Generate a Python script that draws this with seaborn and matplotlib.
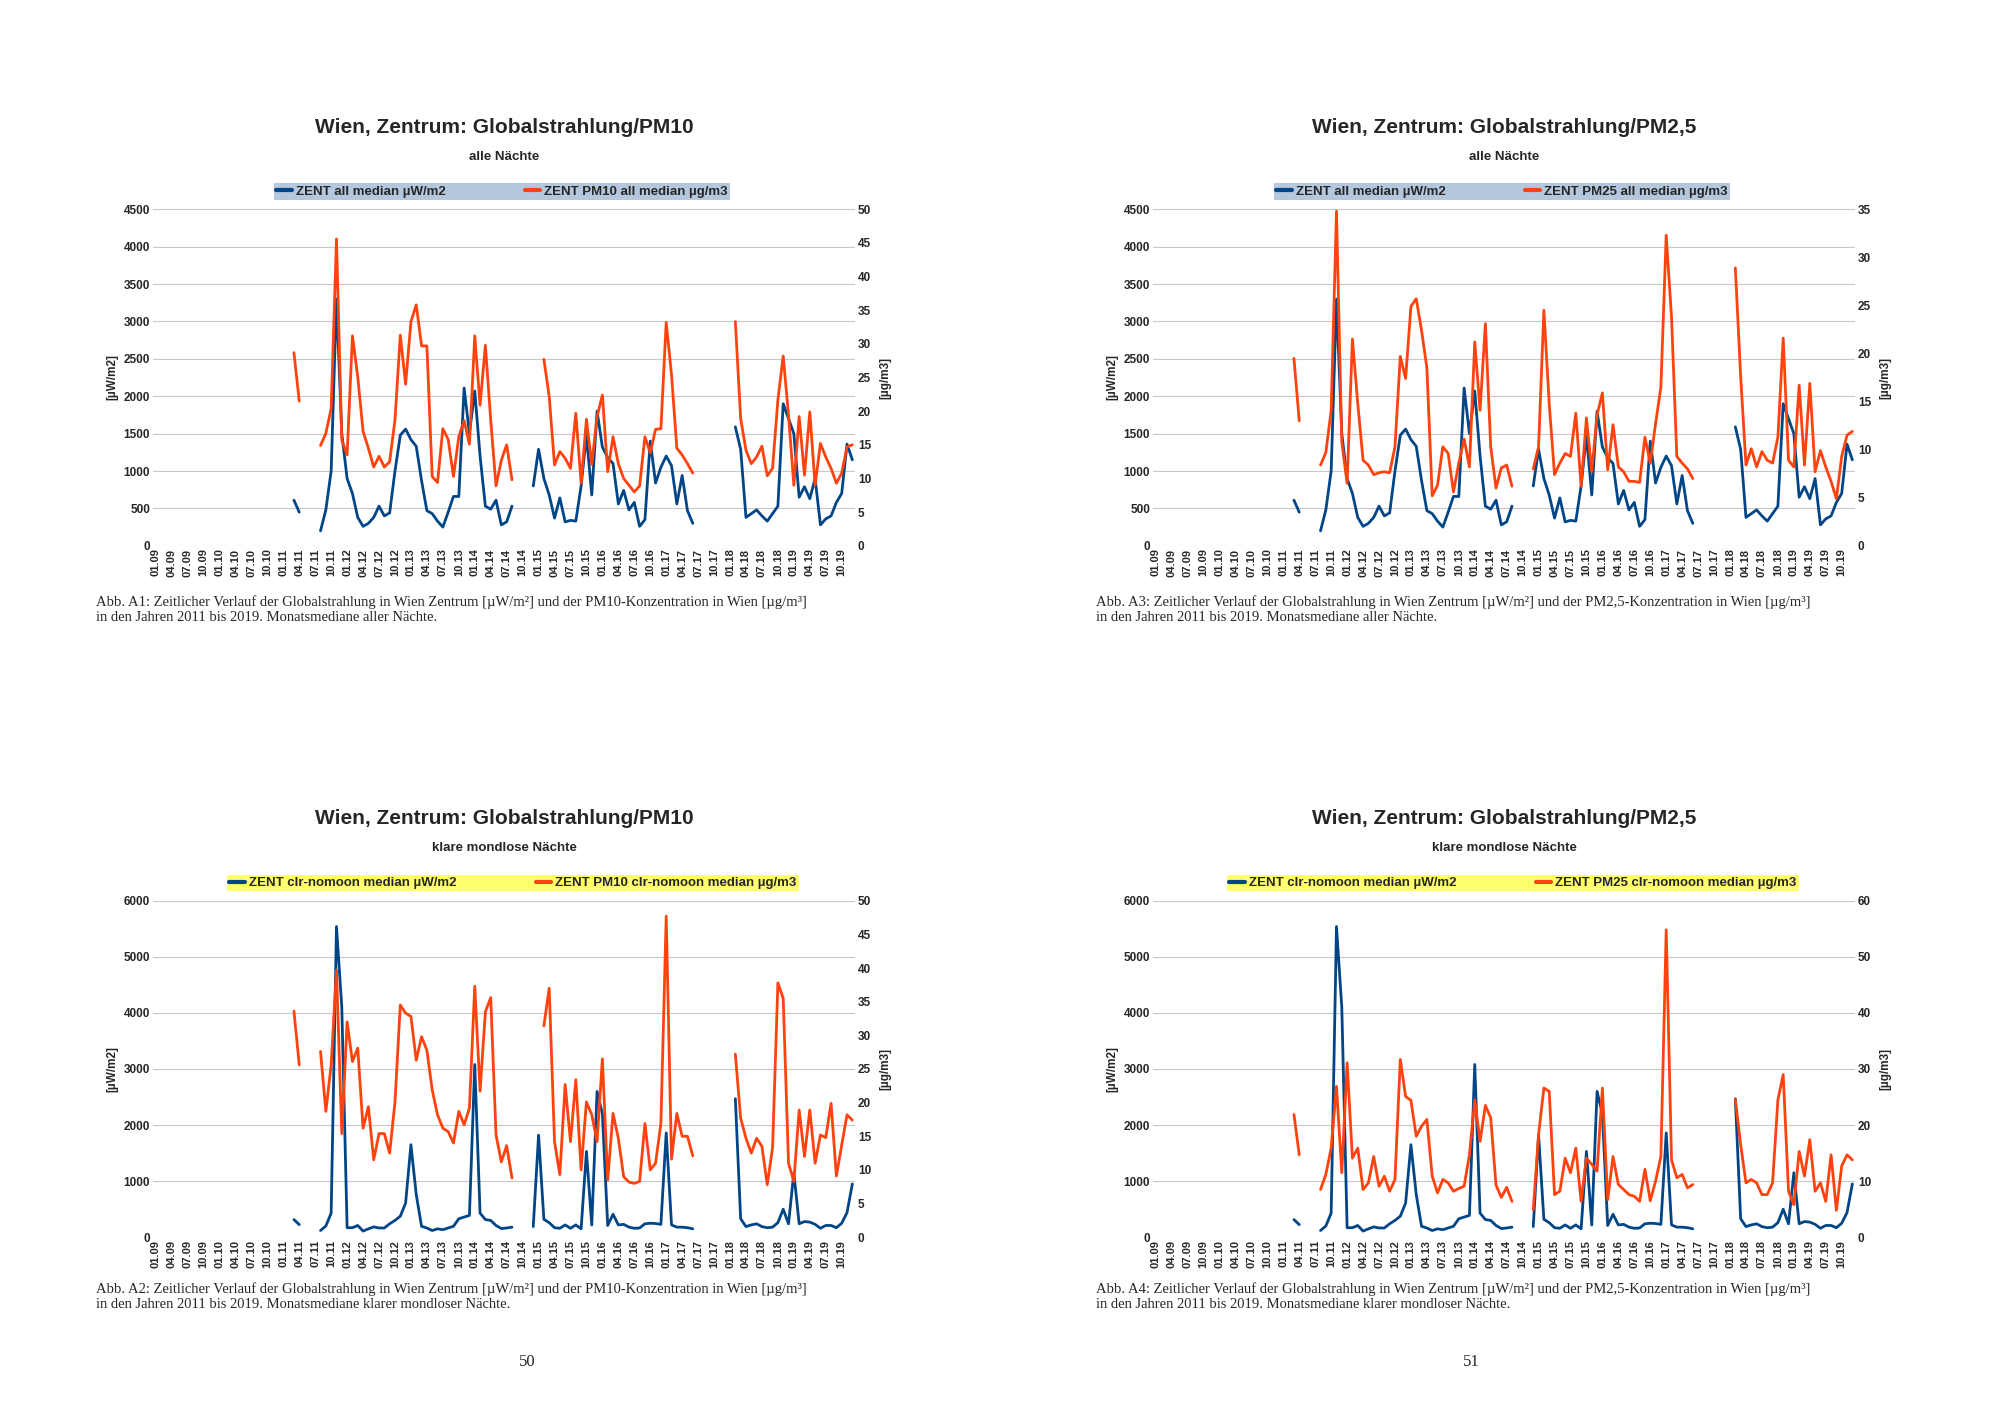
import numpy as np
import pandas as pd
import matplotlib
matplotlib.use("Agg")
import matplotlib.pyplot as plt
import seaborn as sns

# monthly categories 01.09 .. 12.19
months = pd.date_range("2009-01-01", "2019-12-01", freq="MS")
tick_labels = [m.strftime("%m.%y") for m in months][::3]

# segments: (start month index, values)
glob_all = [(26, [610, 450]),
            (31, [200, 480, 1000, 3300, 1500, 900, 700, 380, 260, 300,
                  380, 530, 400, 440, 1000, 1480, 1560, 1420, 1330, 870,
                  470, 430, 330, 250, 450, 660, 660, 2110, 1500, 2070,
                  1200, 530, 490, 610, 280, 320, 530]),
            (71, [800, 1290, 900, 680, 370, 640, 320, 340, 330, 800,
                  1480, 680, 1800, 1320, 1180, 1100, 560, 740, 480, 580,
                  260, 350, 1400, 840, 1050, 1200, 1070, 560, 940, 470, 300]),
            (109, [1590, 1290, 380, 430, 480, 400, 330, 430, 530, 1900,
                   1700, 1500, 650, 790, 630, 900, 280, 360, 400, 580,
                   700, 1360, 1150])]
pm10_all = [(26, [28.7, 21.5]),
            (31, [14.9, 16.7, 20.4, 45.6, 15.7, 13.5, 31.2, 25.1, 17, 14.5,
                  11.7, 13.3, 11.7, 12.5, 18.7, 31.3, 24, 33.3, 35.8, 29.7,
                  29.7, 10.3, 9.4, 17.4, 15.8, 10.3, 16.2, 18.6, 15.1, 31.2,
                  20.9, 29.8, 18.7, 8.9, 12.7, 15, 9.8]),
            (73, [27.7, 22.2, 12, 14, 13, 11.5, 19.7, 9.3,
                  18.8, 12.1, 19.2, 22.4, 11, 16.2, 12.2, 10, 9, 8,
                  8.9, 16.2, 13.8, 17.3, 17.4, 33.2, 25.4, 14.5, 13.5, 12.2, 10.8]),
            (109, [33.3, 18.9, 14.2, 12.2, 13.2, 14.8, 10.4, 11.5, 21.7, 28.2,
                   19.4, 9, 19.2, 10.5, 19.9, 9, 15.2, 13.2, 11.5, 9.3,
                   10.8, 14.7, 15])]
pm25_all = [(26, [19.5, 13]),
            (31, [8.4, 9.7, 14.1, 34.8, 10.8, 6.5, 21.5, 14.8, 8.9, 8.4,
                  7.4, 7.6, 7.7, 7.6, 10.3, 19.7, 17.4, 24.9, 25.7, 22.4,
                  18.5, 5.2, 6.3, 10.3, 9.6, 5.6, 8.6, 11.1, 8.2, 21.2,
                  14.1, 23.1, 10.3, 6, 8.1, 8.4, 6.2]),
            (71, [8, 10.3, 24.5, 14.8, 7.4, 8.6, 9.6, 9.3, 13.8, 6.2,
                  13.3, 7.7, 13.6, 15.9, 7.9, 12.6, 8.2, 7.7, 6.7, 6.7,
                  6.6, 11.3, 8.6, 12.7, 16.5, 32.3, 23.8, 9.3, 8.6, 8, 7]),
            (109, [28.9, 17.6, 8.4, 10.1, 8.2, 9.8, 8.9, 8.6, 11.3, 21.6,
                   8.9, 8.2, 16.7, 8.4, 16.9, 7.7, 9.9, 8.2, 6.7, 4.9,
                   9.3, 11.5, 11.9])]
glob_clr = [(26, [315, 225]),
            (31, [120, 200, 430, 5540, 4100, 170, 170, 210, 110, 150,
                  185, 165, 165, 240, 300, 375, 610, 1650, 760, 195,
                  165, 120, 150, 135, 165, 195, 330, 360, 390, 3080,
                  430, 315, 300, 210, 155, 165, 180]),
            (71, [190, 1820, 320, 260, 170, 160, 220, 160, 220, 150,
                  1530, 220, 2600, 2200, 210, 410, 220, 230, 180, 160,
                  165, 240, 250, 245, 230, 1860, 220, 180, 180, 170, 150]),
            (109, [2470, 330, 190, 220, 240, 190, 170, 180, 260, 500,
                   240, 1150, 240, 280, 270, 230, 160, 210, 210, 170,
                   250, 440, 950])]
pm10_clr = [(26, [33.6, 25.6]),
            (31, [27.6, 18.7, 25.6, 39.7, 15.4, 32, 26.1, 28.1, 16.2, 19.4,
                  11.5, 15.4, 15.4, 12.5, 20.1, 34.5, 33.3, 32.8, 26.3, 29.8,
                  27.8, 21.9, 18.2, 16.2, 15.7, 14, 18.7, 16.7, 19.2, 37.3,
                  21.7, 33.5, 35.6, 15.2, 11.2, 13.6, 8.8]),
            (73, [31.4, 37, 14.2, 9.3, 22.7, 14.2, 23.4, 10,
                  20.1, 18.2, 14.2, 26.5, 8.5, 18.4, 14.7, 9, 8.2, 8,
                  8.3, 16.9, 10, 11, 16.9, 47.7, 11.6, 18.4, 15, 15, 12.1]),
            (109, [27.2, 17.7, 14.7, 12.5, 14.7, 13.5, 7.8, 13.3, 37.8, 35.5,
                   11, 8.3, 18.9, 12, 18.9, 11, 15.2, 14.8, 19.9, 9.1,
                   13.7, 18.2, 17.4])]
pm25_clr = [(26, [21.9, 14.7]),
            (31, [8.5, 11.2, 15.9, 26.9, 11.5, 31.1, 14.1, 15.9, 8.5, 9.7,
                  14.4, 9.1, 10.9, 8.2, 10.3, 31.7, 25.1, 24.4, 18, 19.8,
                  21, 10.9, 7.9, 10.3, 9.7, 8.2, 8.7, 9.1, 14.7, 24.5,
                  17.1, 23.5, 21.3, 9.3, 7.1, 8.9, 6.4]),
            (71, [4.9, 18.3, 26.6, 26, 7.6, 8.2, 14.1, 11.5, 15.9, 6.4,
                  14.1, 13, 11.8, 26.6, 6.7, 14.4, 9.4, 8.5, 7.6, 7.3,
                  6.4, 12.1, 6.5, 10, 14.4, 54.8, 13.8, 10.6, 11.2, 8.8, 9.4]),
            (109, [24.6, 16.5, 9.7, 10.3, 9.7, 7.6, 7.6, 9.7, 24.5, 29,
                   8.2, 5.8, 15.3, 10.9, 17.4, 8.2, 9.7, 6.4, 14.7, 4.8,
                   12.7, 14.7, 13.8])]

BLUE = "#004586"
ORANGE = "#ff420e"

sns.set_theme(style="white")
plt.rcParams["font.family"] = ["Liberation Sans", "DejaVu Sans"]


def to_frame(segs):
    rows = []
    for k, (start, vals) in enumerate(segs):
        for j, v in enumerate(vals):
            rows.append({"x": start + j, "y": v, "seg": k})
    return pd.DataFrame(rows)


def panel(fig, rect, glob, pm, ymax_l, ymax_r, step_r, lab_l, lab_r, band, title, sub):
    ax = fig.add_axes(rect)
    ax2 = ax.twinx()
    sns.lineplot(data=to_frame(glob), x="x", y="y", units="seg", estimator=None,
                 color=BLUE, lw=2.0, ax=ax)
    sns.lineplot(data=to_frame(pm), x="x", y="y", units="seg", estimator=None,
                 color=ORANGE, lw=2.0, ax=ax2)
    ax.set_xlim(-0.5, len(months) - 0.5)
    ax.set_ylim(0, ymax_l)
    ax2.set_ylim(0, ymax_r)
    ax.set_yticks(np.arange(0, ymax_l + 1, 500 if ymax_l == 4500 else 1000))
    ax2.set_yticks(np.arange(0, ymax_r + 0.1, step_r))
    ax.set_xticks(np.arange(0, len(months), 3))
    ax.set_xticklabels(tick_labels, rotation=90, fontsize=8, fontweight="bold")
    ax.grid(axis="y", color="#c8c8c8", lw=0.8)
    ax2.grid(False)
    for a in (ax, ax2):
        for s in a.spines.values():
            s.set_visible(False)
        a.tick_params(axis="y", labelsize=8.5, length=0, pad=2)
        a.set_xlabel("")
    ax.tick_params(axis="x", length=0, pad=2)
    for t in ax.get_yticklabels() + ax2.get_yticklabels():
        t.set_fontweight("bold")
    ax.set_ylabel("[µW/m2]", fontsize=8.5, fontweight="bold", labelpad=4)
    ax2.set_ylabel("[µg/m3]", fontsize=8.5, fontweight="bold", rotation=90, labelpad=6)
    x0, y0, w, h = rect
    cx = x0 + w / 2
    fig.text(cx, y0 + h + 0.058, title, ha="center", va="center", fontsize=15, fontweight="bold")
    fig.text(cx, y0 + h + 0.037, sub, ha="center", va="center", fontsize=9.5, fontweight="bold")
    handles = [plt.Line2D([], [], color=BLUE, lw=3), plt.Line2D([], [], color=ORANGE, lw=3)]
    fig.legend(handles, [lab_l, lab_r], loc="center", ncol=2, fontsize=9.5,
               prop={"weight": "bold", "size": 9.5},
               bbox_to_anchor=(band[0], y0 + h + 0.0065, band[1], 0.012),
               frameon=True, facecolor=band[2], edgecolor="none", fancybox=False,
               framealpha=1, borderpad=0.15, handlelength=1.2, handletextpad=0.3,
               columnspacing=6)
    return ax


fig = plt.figure(figsize=(20, 14.14), dpi=100)
fig.patch.set_facecolor("white")

top_y, bot_y, ph = 0.614, 0.125, 0.238
for off in (0.0, 0.5):
    is_pm10 = off == 0.0
    pmname = "PM10" if is_pm10 else "PM25"
    panel(fig, [0.0765 + off, top_y, 0.351, ph], glob_all,
          pm10_all if is_pm10 else pm25_all, 4500, 50 if is_pm10 else 35, 5,
          "ZENT all median µW/m2", f"ZENT {pmname} all median µg/m3",
          (0.0555 + off, 0.391, "#b4c7dc"),
          "Wien, Zentrum: Globalstrahlung/" + ("PM10" if is_pm10 else "PM2,5"), "alle Nächte")
    panel(fig, [0.0765 + off, bot_y, 0.351, ph], glob_clr,
          pm10_clr if is_pm10 else pm25_clr, 6000, 50 if is_pm10 else 60, 5 if is_pm10 else 10,
          "ZENT clr-nomoon median µW/m2", f"ZENT {pmname} clr-nomoon median µg/m3",
          (0.061 + off, 0.391, "#ffff6d"),
          "Wien, Zentrum: Globalstrahlung/" + ("PM10" if is_pm10 else "PM2,5"), "klare mondlose Nächte")

serif = ["Liberation Serif", "DejaVu Serif"]
caps = [
    (0.048, 0.569, "Abb. A1: Zeitlicher Verlauf der Globalstrahlung in Wien Zentrum [µW/m²] und der PM10-Konzentration in Wien [µg/m³]\nin den Jahren 2011 bis 2019. Monatsmediane aller Nächte."),
    (0.048, 0.083, "Abb. A2: Zeitlicher Verlauf der Globalstrahlung in Wien Zentrum [µW/m²] und der PM10-Konzentration in Wien [µg/m³]\nin den Jahren 2011 bis 2019. Monatsmediane klarer mondloser Nächte."),
    (0.548, 0.569, "Abb. A3: Zeitlicher Verlauf der Globalstrahlung in Wien Zentrum [µW/m²] und der PM2,5-Konzentration in Wien [µg/m³]\nin den Jahren 2011 bis 2019. Monatsmediane aller Nächte."),
    (0.548, 0.083, "Abb. A4: Zeitlicher Verlauf der Globalstrahlung in Wien Zentrum [µW/m²] und der PM2,5-Konzentration in Wien [µg/m³]\nin den Jahren 2011 bis 2019. Monatsmediane klarer mondloser Nächte."),
]
for x, y, t in caps:
    fig.text(x, y, t, ha="left", va="center", fontsize=10.5, family=serif, linespacing=1.25)
fig.text(0.2635, 0.037, "50", ha="center", va="center", fontsize=12, family=serif)
fig.text(0.7355, 0.037, "51", ha="center", va="center", fontsize=12, family=serif)

fig.savefig("out.png", dpi=100, facecolor="white")
